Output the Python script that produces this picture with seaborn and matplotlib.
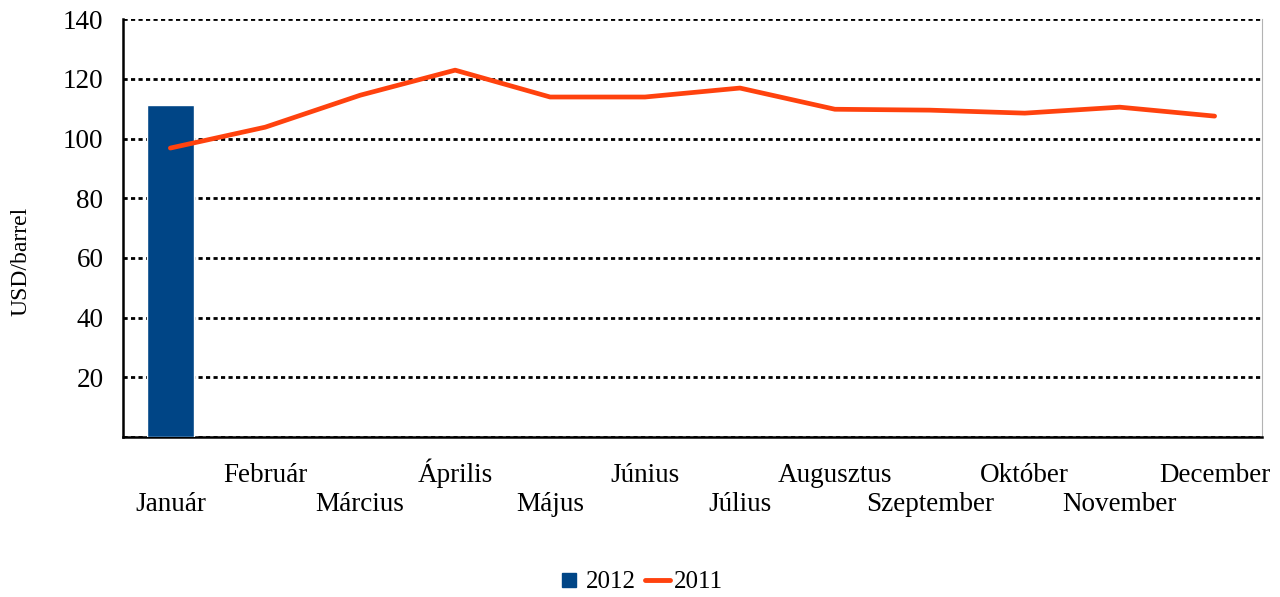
import numpy as np
import pandas as pd
import matplotlib
matplotlib.use("Agg")
import matplotlib.pyplot as plt
from matplotlib.lines import Line2D
import seaborn as sns

months = ["Január", "Február", "Március", "Április", "Május", "Június",
          "Július", "Augusztus", "Szeptember", "Október", "November", "December"]
price_2012 = [111.2, np.nan, np.nan, np.nan, np.nan, np.nan,
              np.nan, np.nan, np.nan, np.nan, np.nan, np.nan]
price_2011 = [96.8, 103.8, 114.5, 122.9, 113.9, 113.9,
              116.9, 109.8, 109.5, 108.5, 110.5, 107.5]
y_ticks = [0, 20, 40, 60, 80, 100, 120, 140]

sns.set_style("white")
plt.rcParams["font.family"] = ["Liberation Serif", "DejaVu Serif"]
plt.rcParams["font.size"] = 19.5
plt.rcParams["text.color"] = "black"
plt.rcParams["xtick.color"] = "black"
plt.rcParams["ytick.color"] = "black"
plt.rcParams["axes.labelcolor"] = "black"

df = pd.DataFrame({"month": months, "2012": price_2012, "2011": price_2011})
df["pos"] = np.arange(len(months))

fig, ax = plt.subplots(figsize=(12.8, 5.97), dpi=100)
fig.subplots_adjust(left=0.096, right=0.986, top=0.968, bottom=0.268)

sns.barplot(data=df, x="pos", y="2012", color="#004586", width=0.5,
            saturation=1, ax=ax, native_scale=True, zorder=3)
sns.lineplot(data=df, x="pos", y="2011", color="#ff420e", linewidth=3.4,
             ax=ax, zorder=4)

ax.set_xlim(-0.5, len(months) - 0.5)
ax.set_ylim(0, 140)
ax.set_yticks(y_ticks)
ax.set_yticklabels([""] + [str(t) for t in y_ticks[1:]])
ax.yaxis.grid(True, color="black", linestyle=(0, (1.5, 1.2)), linewidth=2)
ax.set_axisbelow(True)

# staggered labels: odd months sit one line higher, all share a baseline
ax.set_xticks(np.arange(len(months)))
ax.set_xticklabels([m if i % 2 == 0 else (m + "\n") for i, m in enumerate(months)],
                   va="baseline", linespacing=1.2)
ax.set_xticks(np.arange(-0.5, len(months)), minor=True)
ax.tick_params(axis="x", which="major", length=0, pad=53)
ax.tick_params(axis="x", which="minor", length=8, width=1.8, direction="out")
ax.tick_params(axis="y", length=12, width=1.8, direction="out", pad=2)
ax.set_xlabel("")
ax.set_ylabel("USD/barrel", fontsize=17)
ax.yaxis.set_label_coords(-0.08, 0.42)

for s in ["left", "bottom"]:
    ax.spines[s].set_linewidth(1.8)
    ax.spines[s].set_color("black")
ax.spines["top"].set_visible(False)
ax.spines["right"].set_color("#b3b3b3")
ax.spines["right"].set_linewidth(0.8)

handles = [
    Line2D([], [], marker="s", linestyle="none", markersize=10,
           color="#004586", label="2012"),
    Line2D([], [], color="#ff420e", linewidth=3.5, label="2011"),
]
fig.legend(handles=handles, loc="center", bbox_to_anchor=(0.5, 0.025),
           ncol=2, frameon=False, fontsize=18, handlelength=1.0,
           handletextpad=0.15, columnspacing=0.4)

fig.savefig("out.png", dpi=100)
